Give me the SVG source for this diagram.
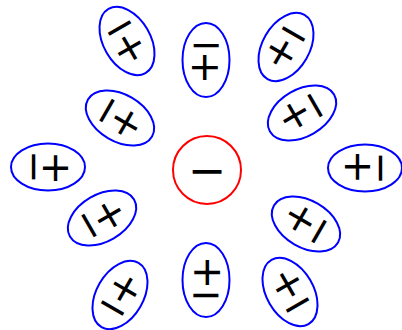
<svg xmlns="http://www.w3.org/2000/svg" width="402" height="330" viewBox="0 0 402 330">
<style>
.e{fill:#fff;stroke:#0000ff;stroke-width:2}
.t{font-family:"DejaVu Sans",sans-serif;font-size:40px;text-anchor:middle;dominant-baseline:central;fill:#000}
.c{font-size:46px}
</style>
<defs>
<g id="dip">
<ellipse class="e" cx="0" cy="0" rx="37" ry="23.5"/>
<text class="t" x="7.5" y="0">+</text>
<text class="t" transform="translate(-13.5,0) rotate(90)">−</text>
</g>
</defs>
<g id="center">
<circle cx="207" cy="170" r="34" fill="#fff" stroke="#ff0000" stroke-width="2"/>
<text class="t c" x="207" y="170">−</text>
</g>
<g id="n_top_left_outer" transform="translate(127,41) rotate(60)"><use href="#dip"/></g>
<g id="n_top" transform="translate(206,60) rotate(90)"><use href="#dip"/></g>
<g id="n_top_right_outer" transform="translate(286,47) rotate(120)"><use href="#dip"/></g>
<g id="n_left_upper" transform="translate(120,118) rotate(30)"><use href="#dip"/></g>
<g id="n_right_upper" transform="translate(302,113) rotate(150)"><use href="#dip"/></g>
<g id="n_left" transform="translate(48,167) rotate(0)"><use href="#dip"/></g>
<g id="n_right" transform="translate(365,168) rotate(180)"><use href="#dip"/></g>
<g id="n_left_lower" transform="translate(102,218) rotate(-30)"><use href="#dip"/></g>
<g id="n_right_lower" transform="translate(306,224) rotate(-150)"><use href="#dip"/></g>
<g id="n_bottom_left_outer" transform="translate(120,295) rotate(-60)"><use href="#dip"/></g>
<g id="n_bottom" transform="translate(206,280) rotate(-90)"><use href="#dip"/></g>
<g id="n_bottom_right_outer" transform="translate(290,292) rotate(-120)"><use href="#dip"/></g>
</svg>
